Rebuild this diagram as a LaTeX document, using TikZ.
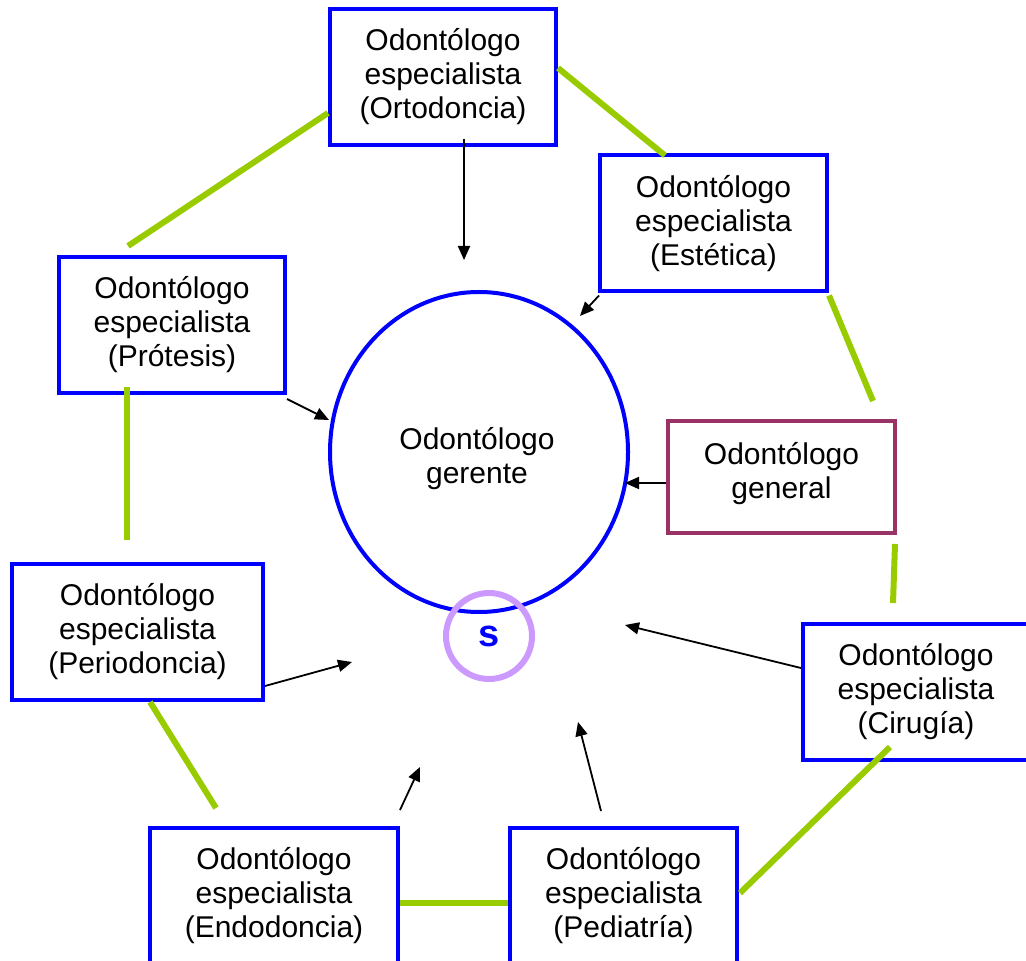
\documentclass[tikz,border=0pt]{standalone}
\usepackage{fontspec}
\setmainfont{Liberation Sans}
\usetikzlibrary{calc,arrows.meta,shapes.geometric}
\definecolor{boxblue}{HTML}{0000FF}
\definecolor{linkgreen}{HTML}{99CC00}
\definecolor{genmaroon}{HTML}{993366}
\definecolor{ringlilac}{HTML}{CC99FF}
\tikzset{
  role/.style={draw=boxblue, line width=2pt, fill=white, align=center,
    font=\fontsize{15}{17}\selectfont, minimum width=113, minimum height=68, inner sep=0pt},
  link/.style={draw=linkgreen, line width=3pt},
  feed/.style={draw=black, line width=0.9pt, -{Triangle[length=7pt,width=6pt]}},
}
\begin{document}
\begin{tikzpicture}[x=0.5pt,y=-0.5pt]
\useasboundingbox (0,0) rectangle (1026,961);
\clip (0,0) rectangle (1026,961);

% central manager
\node[ellipse, draw=boxblue, line width=2pt, minimum width=149, minimum height=160,
  inner sep=0pt] (gerente) at (479,452) {};
\node[align=center, font=\fontsize{15}{17}\selectfont, inner sep=0pt] (gerentetxt) at (477,459)
  {Odontólogo\\gerente};

% specialists and general practitioner
\node[role, minimum width=113] (orto) at (443,77) {Odontólogo\\especialista\\(Ortodoncia)};
\node[role, minimum width=113.5] (estetica) at (713.5,223.5) {Odontólogo\\especialista\\ (Estética)};
\node[role] (protesis) at (172,325) {Odontólogo\\especialista\\ (Prótesis)};
\node[role, draw=genmaroon, minimum width=113.5, minimum height=56, text depth=7pt] (general) at (781.5,477) {Odontólogo\\general};
\node[role, minimum width=125.5] (perio) at (137.5,632) {Odontólogo\\especialista\\(Periodoncia)};
\node[role] (cirugia) at (916,692) {Odontólogo\\especialista\\ (Cirugía)};
\node[role, minimum width=124] (endo) at (274,896) {Odontólogo\\especialista\\(Endodoncia)};
\node[role, minimum width=113.5] (pedia) at (623.5,896) {Odontólogo\\especialista\\ (Pediatría)};

% green links around the ring
\draw[link] ($(orto.west)+(0,36)$) -- ($(protesis.north)+(-44,-9)$);
\draw[link] ($(orto.east)+(0,-9)$) -- ($(estetica.north west)+(67,2)$);
\draw[link] ($(estetica.south east)+(0,2)$) -- ($(general.north east)+(-24,-18)$);
\draw[link] ($(protesis.south)+(-45,-8)$) -- ($(perio.north)+(-10.5,-22)$);
\draw[link] ($(general.south east)+(-2,9)$) -- ($(cirugia.north)+(-23,-19)$);
\draw[link] ($(perio.south)+(12.5,0)$) -- ($(endo.north)+(-58,-18)$);
\draw[link] ($(endo.east)+(0,7)$) -- ($(pedia.west)+(0,7)$);
\draw[link] ($(cirugia.south)+(-26,-15)$) -- ($(pedia.east)+(1,-3)$);

% arrow tips near the manager
\coordinate (tOrto) at (464,260);
\coordinate (tEst) at (580,316);
\coordinate (tPro) at (329,420);
\coordinate (tGen) at (625,483);
\coordinate (tCir) at (625,625);
\coordinate (tPed) at (578,722);
\coordinate (tEndo) at (420,767);
\coordinate (tPerio) at (352,662);

\draw[feed] ($(orto.south)+(21,-8)$) -- (tOrto);
\draw[feed] ($(estetica.south west)+(1,2)$) -- (tEst);
\draw[feed] ($(protesis.south east)+(0,4)$) -- (tPro);
\draw[feed] ($(general.west)+(0,6)$) -- (tGen);
\draw[feed] ($(cirugia.west)+(0,-24)$) -- (tCir);
\draw[feed] ($(pedia.north)+(-22.5,-15)$) -- (tPed);
\draw[feed] ($(endo.north east)+(0,-16)$) -- (tEndo);
\draw[feed] ($(perio.east)+(0,54)$) -- (tPerio);

% small ring
\node[circle, draw=ringlilac, line width=3pt, minimum size=43, inner sep=0pt,
  font=\fontsize{19}{20}\selectfont\bfseries, text=boxblue] (s) at (489,636) {s};
\end{tikzpicture}
\end{document}
